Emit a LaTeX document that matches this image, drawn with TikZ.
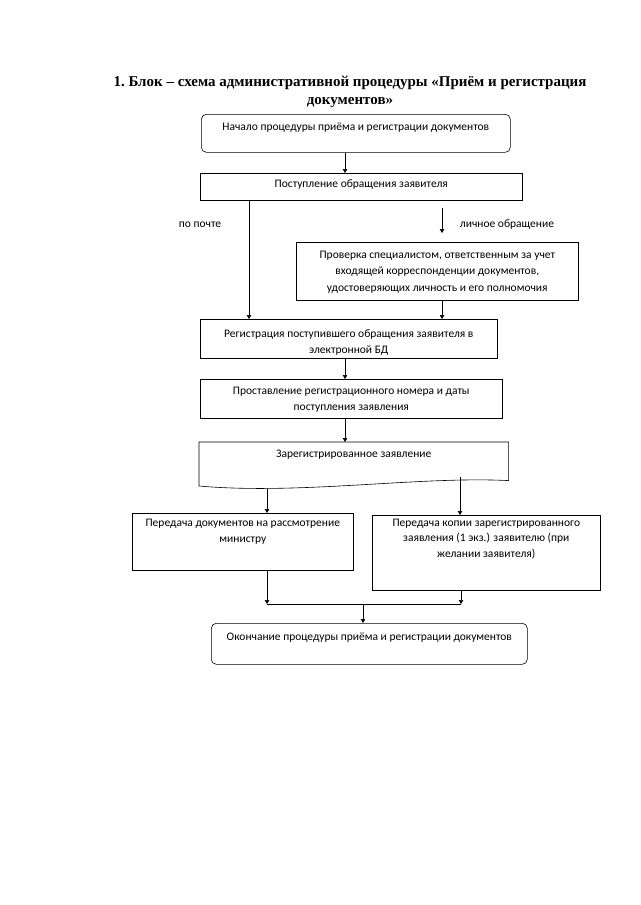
\documentclass[tikz,border=0pt]{standalone}
\usepackage{fontspec}
\setmainfont{Carlito}
\newfontfamily\titlefont{Liberation Serif}
\usetikzlibrary{arrows.meta}

\begin{document}
\begin{tikzpicture}[x=1pt, y=-1pt, line width=.6pt,
  every node/.style={font=\fontsize{11.5}{15.5}\selectfont},
  box/.style={draw, anchor=north west, inner sep=0pt, align=center},
  rbox/.style={box, rounded corners=5pt},
  arr/.style={-{Triangle[width=4.5pt,length=4pt]}}]
  \useasboundingbox (0,0) rectangle (640,905);

  \node[font=\titlefont\bfseries\fontsize{15}{18}\selectfont, align=center] (title) at (350,92)
    {1.\ Блок – схема административной процедуры «Приём и регистрация\\документов»};

  \node[rbox, minimum width=309pt, text height=16pt, text depth=22pt] (start) at (201,114)
    {Начало процедуры приёма и регистрации документов};
  \node[box, minimum width=322pt, text height=14pt, text depth=13pt] (inflow) at (200,173)
    {Поступление обращения заявителя};
  \node[box, minimum width=282pt, text height=49pt, text depth=9pt,
    font=\fontsize{11.5}{16.5}\selectfont] (check) at (296,242)
    {Проверка специалистом, ответственным за учет\\входящей корреспонденции документов,\\удостоверяющих личность и его полномочия};
  \node[box, minimum width=297pt, text height=34pt, text depth=5pt] (reg) at (200,319)
    {Регистрация поступившего обращения заявителя в\\электронной БД};
  \node[box, minimum width=302pt, text height=31pt, text depth=8pt] (num) at (200,379)
    {Проставление регистрационного номера и даты\\поступления заявления};
  \node[box, draw=none, minimum width=309pt, text height=15pt, text depth=23pt] (doc) at (199,442)
    {Зарегистрированное заявление};
  \draw (doc.north west) -- (doc.north east) -- (doc.south east)
    .. controls (420,476) and (300,495) .. (199,486) -- cycle;
  \node[box, minimum width=221pt, text height=29pt, text depth=28pt] (minist) at (132,513)
    {Передача документов на рассмотрение\\министру};
  \node[box, minimum width=228pt, text height=42pt, text depth=33pt] (copy) at (372,515)
    {Передача копии зарегистрированного\\заявления (1 экз.) заявителю (при\\желании заявителя)};
  \node[rbox, minimum width=316pt, text height=17pt, text depth=24pt] (finish) at (211,623)
    {Окончание процедуры приёма и регистрации документов};

  \node (post) at (200,225) {по почте};
  \node (pers) at (507,225) {личное обращение};

  \coordinate (m) at (345,0);
  \coordinate (l) at (249,0);
  \coordinate (r) at (442,0);
  \coordinate (w1) at (267,489);
  \coordinate (w2) at (460,477);
  \coordinate (j1) at (267,604);
  \coordinate (j2) at (461,604);
  \coordinate (j3) at (363,604);

  \draw[arr] (start.south -| m) -- (inflow.north -| m);
  \draw[arr] (inflow.south -| l) -- (reg.north -| l);
  \draw[arr] ([yshift=-7pt]inflow.south -| r) -- ([yshift=9pt]check.north -| r);
  \draw[arr] (check.south -| r) -- (reg.north -| r);
  \draw[arr] (reg.south -| m) -- (num.north -| m);
  \draw[arr] (num.south -| m) -- (doc.north -| m);
  \draw[arr] (w1) -- (minist.north -| w1);
  \draw[arr] (w2) -- (copy.north -| w2);
  \draw[arr] (minist.south -| j1) -- (j1);
  \draw[arr] (copy.south -| j2) -- (j2);
  \draw (j1) -- (j2);
  \draw[arr] (j3) -- (finish.north -| j3);
\end{tikzpicture}
\end{document}
